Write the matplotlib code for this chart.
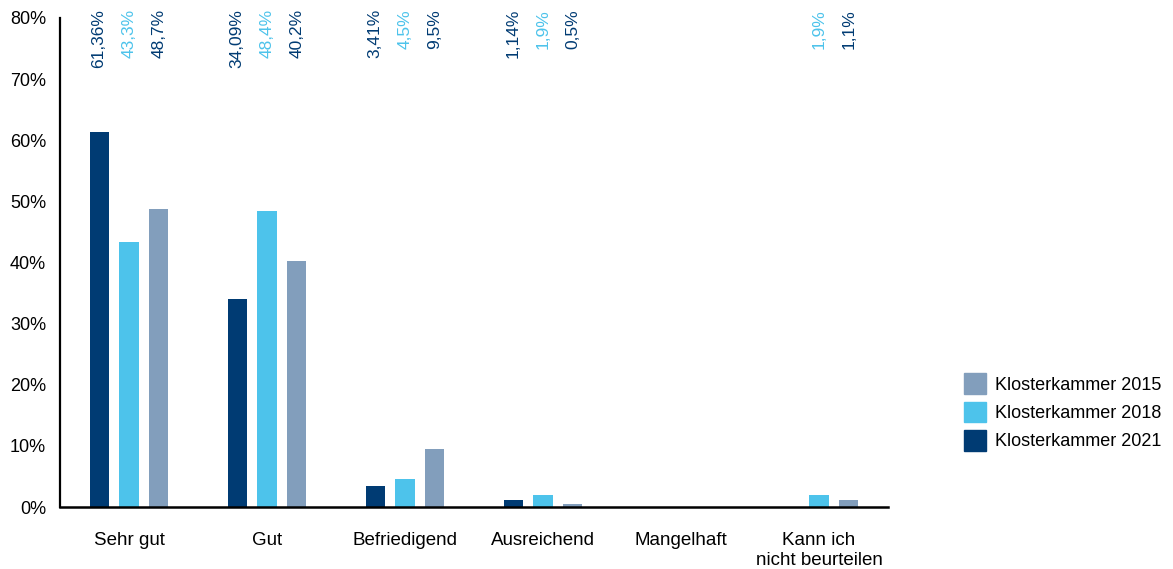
import numpy as np
import matplotlib
matplotlib.use("Agg")
import matplotlib.pyplot as plt
from matplotlib.transforms import blended_transform_factory
from matplotlib.patches import Patch

plt.rcParams['font.family'] = ['Liberation Sans', 'DejaVu Sans']

categories = ["Sehr gut", "Gut", "Befriedigend", "Ausreichend", "Mangelhaft",
              "Kann ich\nnicht beurteilen"]
vals_2021 = [61.36, 34.09, 3.41, 1.14, None, None]
vals_2018 = [43.3, 48.4, 4.5, 1.9, None, 1.9]
vals_2015 = [48.7, 40.2, 9.5, 0.5, None, 1.1]
labels_2021 = ["61,36%", "34,09%", "3,41%", "1,14%", "", ""]
labels_2018 = ["43,3%", "48,4%", "4,5%", "1,9%", "", "1,9%"]
labels_2015 = ["48,7%", "40,2%", "9,5%", "0,5%", "", "1,1%"]
yticks = [0, 10, 20, 30, 40, 50, 60, 70, 80]
ytick_labels = ["0%", "10%", "20%", "30%", "40%", "50%", "60%", "70%", "80%"]

c2021 = "#003B73"
c2018 = "#4DC3EB"
c2015 = "#829EBC"

fig = plt.figure(figsize=(11.73, 5.69), dpi=100)
ax = fig.add_axes([60 / 1173, 1 - 507 / 569, 828 / 1173, 489 / 569])

x = np.arange(len(categories))
width = 0.138
offset = 0.217

series = [
    (vals_2021, labels_2021, c2021, c2021, -offset),
    (vals_2018, labels_2018, c2018, c2018, 0.0),
    (vals_2015, labels_2015, c2015, c2021, offset),
]

trans = blended_transform_factory(ax.transData, fig.transFigure)
for vals, labs, col, tcol, off in series:
    v = np.array([np.nan if a is None else a for a in vals], dtype=float)
    ax.bar(x + off, np.nan_to_num(v), width=width, color=col, zorder=2)
    for xi, lab in zip(x, labs):
        if lab:
            ax.text(xi + off, 1 - 9 / 569, lab, rotation=90, ha="center",
                    va="top", color=tcol, fontsize=12.5, transform=trans)

ax.set_xlim(-0.5, len(categories) - 0.5)
ax.set_ylim(0, 80)
ax.set_yticks(yticks)
ax.set_yticklabels(ytick_labels)
ax.set_xticks(x)
ax.set_xticklabels(categories)
ax.tick_params(axis="y", length=0, pad=10, labelsize=13)
ax.tick_params(axis="x", length=0, pad=18, labelsize=13.5)

for s in ["top", "right"]:
    ax.spines[s].set_visible(False)
ax.spines["left"].set_linewidth(1.6)
ax.spines["bottom"].set_linewidth(1.8)

handles = [Patch(color=c2015), Patch(color=c2018), Patch(color=c2021)]
fig.legend(handles, ["Klosterkammer 2015", "Klosterkammer 2018", "Klosterkammer 2021"],
           loc="center left", bbox_to_anchor=(948 / 1173, 1 - 412 / 569),
           frameon=False, fontsize=13, handlelength=1.2, handleheight=1.35,
           handletextpad=0.5, labelspacing=0.45)

fig.savefig("out.png", dpi=100)
